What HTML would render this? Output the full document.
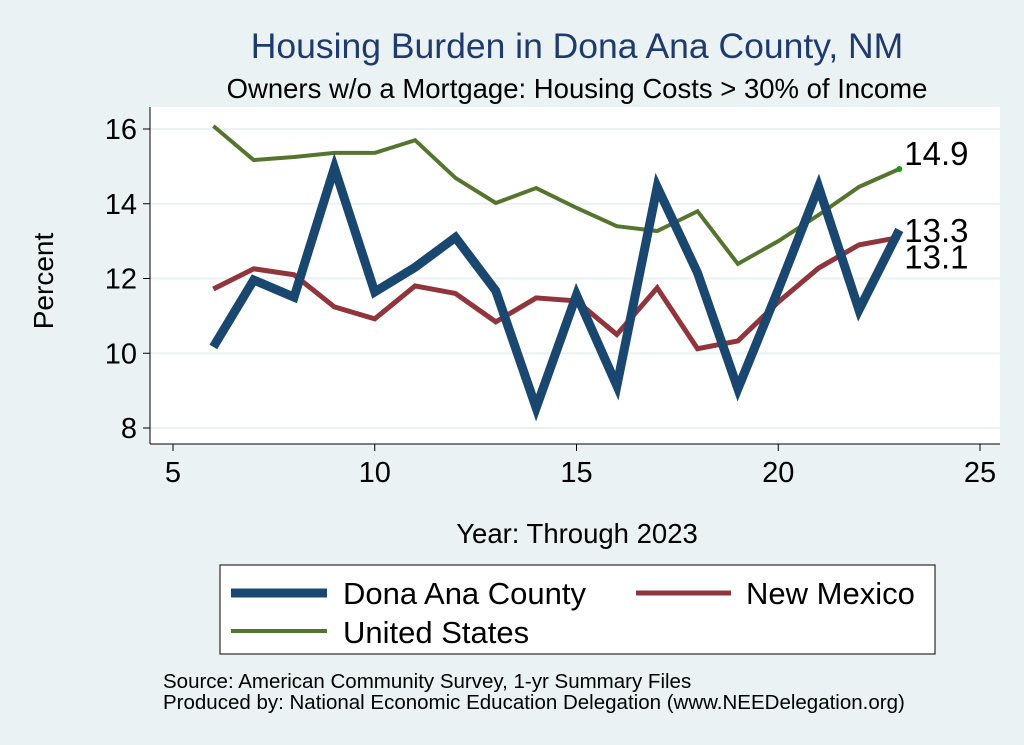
<!DOCTYPE html>
<html><head><meta charset="utf-8"><style>
body{margin:0;background:#EAF2F3;font-family:"Liberation Sans",sans-serif}
svg{display:block}
</style></head><body>
<svg width="1024" height="745">
<rect x="0" y="0" width="1024" height="745" fill="#EAF2F3"/>
<rect x="150" y="107" width="850" height="337" fill="#fff"/>
<text x="577" y="58" font-size="35.5" fill="#1E3A6E" text-anchor="middle">Housing Burden in Dona Ana County, NM</text>
<text x="577" y="98" font-size="27.5" fill="#000" text-anchor="middle">Owners w/o a Mortgage: Housing Costs &gt; 30% of Income</text>
<g id="grid"></g><g id="axes"></g><g id="series"></g><g id="labels"></g>
<text x="53" y="281" font-size="28" text-anchor="middle" transform="rotate(-90 53 281)">Percent</text>
<text x="577" y="543" font-size="27.5" text-anchor="middle">Year: Through 2023</text>
<g>
<rect x="220" y="565" width="715" height="89" fill="#fff" stroke="#000" stroke-width="1"/>
<line x1="231" y1="593" x2="327" y2="593" stroke="#1A476F" stroke-width="9"/>
<text x="343" y="604" font-size="31">Dona Ana County</text>
<line x1="636" y1="593" x2="731" y2="593" stroke="#90353B" stroke-width="5"/>
<text x="746" y="604" font-size="31">New Mexico</text>
<line x1="231" y1="631" x2="327" y2="631" stroke="#55752F" stroke-width="4"/>
<text x="343" y="643" font-size="31">United States</text>
</g>
<text x="163" y="688" font-size="20.5">Source: American Community Survey, 1-yr Summary Files</text>
<text x="163" y="709" font-size="20.5">Produced by: National Economic Education Delegation (www.NEEDelegation.org)</text>
</svg>
<script>
const years=[6,7,8,9,10,11,12,13,14,15,16,17,18,19,20,21,22,23];
const donaAna=[10.17,11.96,11.5,14.96,11.64,12.3,13.1,11.67,8.54,11.56,9.13,14.45,12.15,9.05,11.7,14.45,11.16,13.3];
const newMexico=[11.72,12.26,12.1,11.24,10.92,11.8,11.6,10.84,11.48,11.4,10.5,11.75,10.12,10.33,11.37,12.28,12.9,13.1];
const unitedStates=[16.08,15.17,15.25,15.36,15.36,15.7,14.69,14.02,14.42,13.89,13.4,13.27,13.8,12.39,13.0,13.7,14.45,14.93];
const xTicks=[5,10,15,20,25];
const yTicks=[8,10,12,14,16];
const NS="http://www.w3.org/2000/svg";
const xs=v=>173+(v-5)*(980-173)/20;
const ys=v=>428-(v-8)*(428-129)/8;
function mk(tag,attrs,parent){const e=document.createElementNS(NS,tag);for(const k in attrs)e.setAttribute(k,attrs[k]);document.getElementById(parent).appendChild(e);return e;}
yTicks.forEach(t=>{
 const g=mk('line',{x1:150,x2:1000,y1:ys(t),y2:ys(t),stroke:'#EAF2F3','stroke-width':2},'grid');
 
 
 const tk=mk('line',{x1:143,x2:150,y1:ys(t),y2:ys(t),stroke:'#000','stroke-width':1},'axes');
 
 
 const tx=mk('text',{x:137,y:ys(t)+10,'font-size':29,'text-anchor':'end'},'axes');tx.textContent=t;
 
 
});
xTicks.forEach(t=>{
 const tk=mk('line',{x1:xs(t),x2:xs(t),y1:444,y2:451,stroke:'#000','stroke-width':1},'axes');
 
 
 const tx=mk('text',{x:xs(t),y:482,'font-size':29,'text-anchor':'middle'},'axes');tx.textContent=t;
 
 
});
const ya=mk('line',{x1:150,x2:150,y1:107,y2:444,stroke:'#000','stroke-width':1},'axes');


const xa=mk('line',{x1:150,x2:1000,y1:444,y2:444,stroke:'#000','stroke-width':1},'axes');


function line(vals,color,w,name){
 const p=mk('polyline',{points:years.map((y,i)=>xs(y)+','+ys(vals[i])).join(' '),fill:'none',stroke:color,'stroke-width':w,'stroke-linejoin':'miter'},'series');
 
 
}
line(unitedStates,'#55752F',4,'line-united-states');
line(newMexico,'#90353B',5,'line-new-mexico');
line(donaAna,'#1A476F',9,'line-dona-ana');
const n=years.length-1;
const dot=mk('circle',{cx:xs(years[n]),cy:ys(unitedStates[n]),r:3,fill:'#1a9a1a'},'labels');


function lab(v,dy,name){const t=mk('text',{x:xs(years[n])+5,y:ys(v)+dy,'font-size':33},'labels');t.textContent=v.toFixed(1);
 
 }
lab(unitedStates[n],-4,'label-united-states-end');
lab(donaAna[n],12,'label-dona-ana-end');
lab(newMexico[n],31,'label-new-mexico-end');
</script>
</body></html>
